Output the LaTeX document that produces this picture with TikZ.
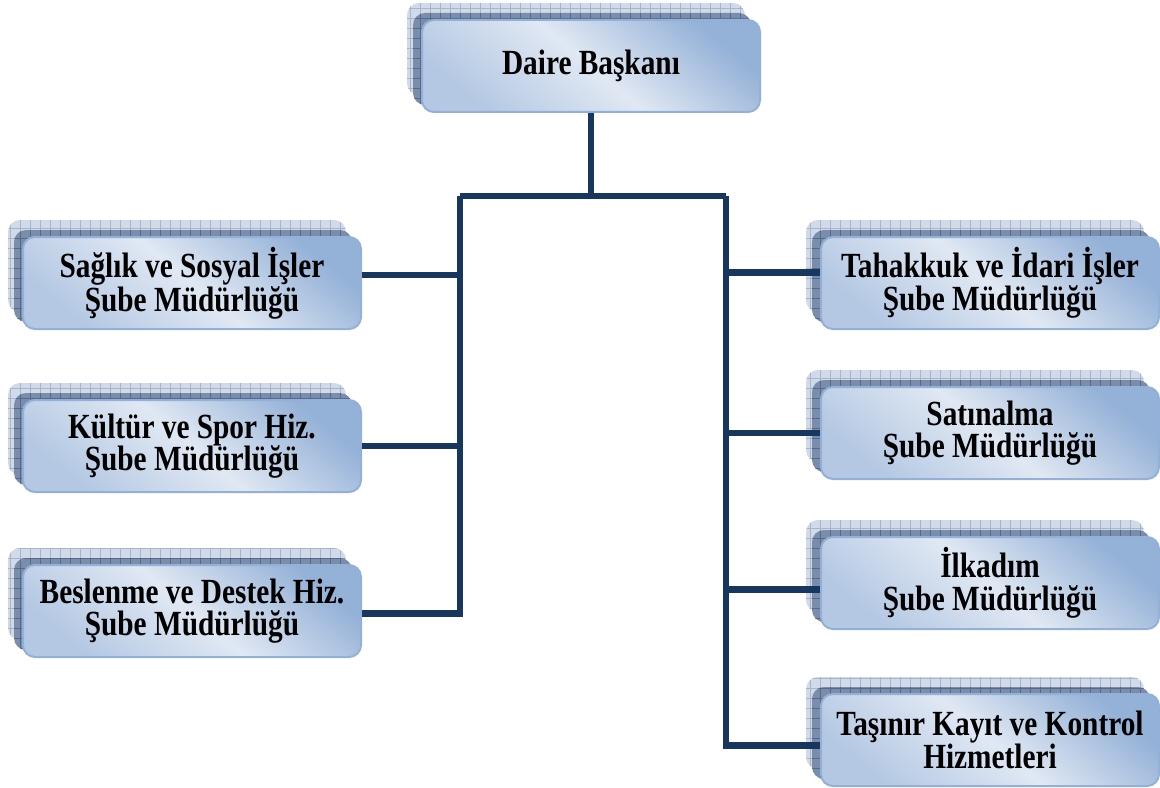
\documentclass[tikz,border=0pt]{standalone}
\usepackage{fontspec}
\setmainfont{Liberation Serif}[FakeStretch=0.83]
\usetikzlibrary{shadows,patterns.meta}
\definecolor{linkblue}{HTML}{17375E}
\definecolor{boxlight}{HTML}{E0E8F3}
\definecolor{boxmid}{HTML}{B4C8E3}
\definecolor{boxdark}{HTML}{94B1D7}
\definecolor{boxedge}{HTML}{93B1D8}
\definecolor{shadepale}{HTML}{D0DAE8}
\definecolor{gridpale}{HTML}{A6B5CA}
\definecolor{shadedeep}{HTML}{7A8DAA}
\definecolor{griddeep}{HTML}{56698A}
\begin{document}
\begin{tikzpicture}[x=0.75pt,y=-0.75pt,
org line/.style={draw=linkblue,line width=5pt},
unit box/.style={rounded corners=9pt,draw=boxedge,line width=1.5pt,
 top color=boxdark,bottom color=boxmid,middle color=boxlight,shading angle=-40,
 minimum width=253.5pt,minimum height=69pt,align=center,
 font=\fontsize{26.5}{24.5}\selectfont\bfseries,
 general shadow={shadow xshift=-11.25pt,shadow yshift=12.75pt,fill=shadepale,
  postaction={pattern={Hatch[angle=0,distance=7.5pt,line width=0.4pt]},pattern color=gridpale}},
 general shadow={shadow xshift=-6.75pt,shadow yshift=5.25pt,fill=shadedeep,
  postaction={pattern={Hatch[angle=0,distance=7.5pt,line width=0.4pt]},pattern color=griddeep}}}]
\useasboundingbox (0,0) rectangle (1160,788);
\begin{scope}
\node[unit box] (daire) at (591,66) {\raisebox{-4pt}{Daire Başkanı}};
\node[unit box] (saglik) at (192,283) {Sağlık ve Sosyal İşler\\Şube Müdürlüğü};
\node[unit box] (kultur) at (192,446) {Kültür ve Spor Hiz.\\Şube Müdürlüğü};
\node[unit box] (beslenme) at (192,611) {Beslenme ve Destek Hiz.\\Şube Müdürlüğü};
\node[unit box] (tahakkuk) at (990,283) {Tahakkuk ve İdari İşler\\Şube Müdürlüğü};
\node[unit box] (satinalma) at (990,433) {Satınalma\\Şube Müdürlüğü};
\node[unit box] (ilkadim) at (990,583) {İlkadım\\Şube Müdürlüğü};
\node[unit box] (tasinir) at (990,740) {Taşınır Kayıt ve Kontrol\\Hizmetleri};
\end{scope}
\begin{scope}
\coordinate (lbus) at (460,196);
\coordinate (rbus) at (726,196);
\draw[org line] (daire.south) -- (daire.south |- lbus);
\draw[org line] (lbus) -- (rbus);
\draw[org line] (lbus) |- ([yshift=-2pt]beslenme.east);
\draw[org line] (rbus) |- ([yshift=-4pt]tasinir.west);
\draw[org line] ([yshift=6pt]saglik.east) -- ([yshift=6pt]saglik.east -| lbus);
\draw[org line] (kultur.east) -- (kultur.east -| lbus);
\draw[org line] ([yshift=8pt]tahakkuk.west) -- ([yshift=8pt]tahakkuk.west -| rbus);
\draw[org line] (satinalma.west) -- (satinalma.west -| rbus);
\draw[org line] ([yshift=-5pt]ilkadim.west) -- ([yshift=-5pt]ilkadim.west -| rbus);
\end{scope}
\end{tikzpicture}
\end{document}
